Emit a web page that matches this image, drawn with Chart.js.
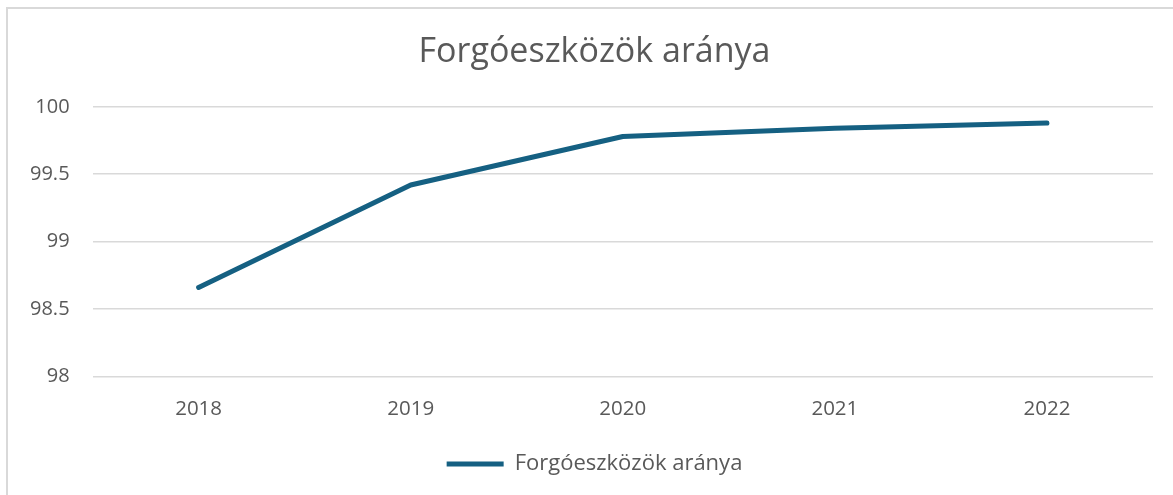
<!DOCTYPE html>
<html>
<head>
<meta charset="utf-8">
<script src="https://cdn.jsdelivr.net/npm/chart.js@4.4.1/dist/chart.umd.min.js"></script>
<style>
    html, body { margin: 0; padding: 0; background: #fff; overflow: hidden; }
    .wrap { position: relative; width: 1173px; height: 495px; overflow: hidden; }
    .frame { position: absolute; left: 6px; top: 7px; width: 1200px; height: 520px;
             border-left: 2px solid #d9d9d9; border-top: 2px solid #d9d9d9; }
    .box { position: absolute; left: 0; top: 0; width: 1188px; height: 495px; }
</style>
</head>
<body>
<div class="wrap">
    <div class="frame"></div>
    <div class="box"><canvas id="myChart"></canvas></div>
</div>
<script>
const years = ['2018', '2019', '2020', '2021', '2022'];
const ratio = [98.66, 99.42, 99.78, 99.84, 99.88];
const seriesName = 'Forgóeszközök aránya';
const titleText = 'Forgóeszközök aránya';

const textColor = '#595959';
const lineColor = '#156082';
const fontFamily = "'Open Sans', sans-serif";

const ctx = document.getElementById('myChart');

new Chart(ctx, {
    type: 'line',
    data: {
        labels: years,
        datasets: [{
            label: seriesName,
            data: ratio,
            borderColor: lineColor,
            backgroundColor: lineColor,
            borderWidth: 5,
            borderCapStyle: 'round',
            borderJoinStyle: 'round',
            pointRadius: 0,
            tension: 0
        }]
    },
    options: {
        responsive: true,
        maintainAspectRatio: false,
        animation: false,
        layout: {
            padding: { left: 7, right: 6, top: 32, bottom: 10 }
        },
        scales: {
            y: {
                min: 98,
                max: 100,
                ticks: {
                    stepSize: 0.5,
                    color: textColor,
                    padding: 23,
                    font: { family: fontFamily, size: 20 },
                    callback: (value) => value
                },
                grid: { color: '#d9d9d9', lineWidth: 1.5, drawTicks: false },
                border: { display: false }
            },
            // empty spacer on the right so the title and legend sit centred like the original
            spacer: {
                type: 'linear',
                position: 'right',
                display: true,
                ticks: { display: false },
                grid: { display: false, drawTicks: false },
                border: { display: false },
                afterFit: (scale) => { scale.width = 29; }
            },
            x: {
                offset: true,
                ticks: {
                    color: textColor,
                    padding: 20,
                    font: { family: fontFamily, size: 20.5 }
                },
                grid: { display: false, drawTicks: false, offset: true },
                border: { display: false }
            }
        },
        plugins: {
            title: {
                display: true,
                text: titleText,
                color: textColor,
                padding: { top: 0, bottom: 34 },
                font: { family: fontFamily, size: 34, weight: 'normal' }
            },
            legend: {
                position: 'bottom',
                labels: {
                    color: textColor,
                    usePointStyle: true,
                    pointStyle: 'line',
                    pointStyleWidth: 57,
                    padding: 12,
                    font: { family: fontFamily, size: 22 }
                }
            },
            tooltip: { enabled: false }
        }
    }
});
</script>
</body>
</html>
